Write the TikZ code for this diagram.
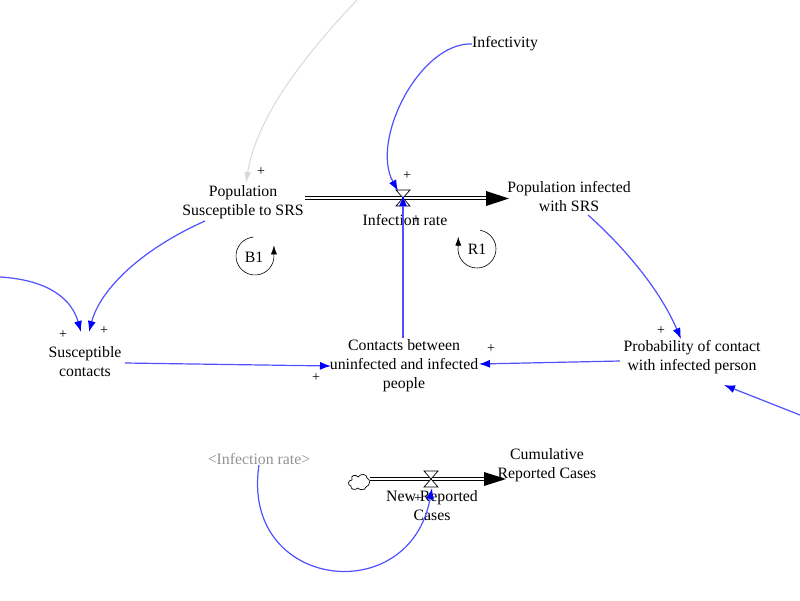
\documentclass[tikz,border=0pt]{standalone}
\usepackage{fontspec}
\setmainfont{Liberation Serif}
\usetikzlibrary{arrows.meta}
\definecolor{linkblue}{RGB}{80,80,255}
\tikzset{
  lbl/.style={font=\fontsize{15.8}{19}\selectfont, align=center, inner sep=0pt},
  grey/.style={lbl, text=gray!85},
  pl/.style={font=\fontsize{14}{14}\selectfont, inner sep=0pt, text=black},
  link/.style={draw=linkblue, line width=1.2pt, -{Latex[length=11pt,width=8pt,color=blue]}},
  glink/.style={draw=gray!30, line width=1pt, -{Latex[length=11pt,width=7pt]}},
  pipe/.style={draw=black, double=white, double distance=2.6pt, line width=0.9pt},
  pipehead/.style={fill=black},
  valveshape/.style={draw=black, fill=white, line width=0.7pt},
  loopc/.style={draw=black, line width=0.6pt, -{Latex[length=9pt,width=6pt]}}
}
\begin{document}
\begin{tikzpicture}[x=1pt,y=-1pt]
\useasboundingbox[fill=white] (0,0) rectangle (800,600);

% ---------- nodes ----------
\node[lbl] (pss) at (243,202) {Population\\Susceptible to SRS};
\node[lbl] (pinf) at (569,197) {Population infected\\with SRS};
\node[lbl] (infrate) at (405,220) {Infection rate};
\node[lbl] (infect) at (505,44) {Infectivity};
\node[lbl] (susc) at (85,362) {Susceptible\\contacts};
\node[lbl] (cont) at (404,366) {Contacts between\\uninfected and infected\\people};
\node[lbl] (prob) at (692,357) {Probability of contact\\with infected person};
\node[grey] (irg) at (259,459) {<Infection rate>};
\node[lbl] (nrc) at (432,506) {New Reported\\Cases};
\node[lbl] (crc) at (547,465) {Cumulative\\Reported Cases};

% ---------- coordinates ----------
\coordinate (v1) at (403,198);
\coordinate (v2) at (431,479);
\coordinate (lefte) at (0,277);
\coordinate (righte) at (800,415);
\coordinate (topg) at (357,0);
\coordinate (cloud) at (360,483);
\coordinate (contn) at (403,338);

% ---------- main pipe ----------
\draw[pipe] (305,198) -- (490,198);
\fill[pipehead] (486,191) -- (509,198.5) -- (486,206) -- cycle;
\draw[valveshape] (396,190) -- (410,190) -- (396,206) -- (410,206) -- cycle;

% ---------- second pipe ----------
\draw[pipe] (370,479) -- (488,479);
\fill[pipehead] (484,472) -- (506,479) -- (484,486) -- cycle;
\draw[valveshape] (424,471) -- (438,471) -- (424,487) -- (438,487) -- cycle;
\draw[line width=0.7pt] (352,480) .. controls (350,475) and (356,474) .. (358,477)
  .. controls (361,473) and (367,474) .. (367,478)
  .. controls (371,479) and (370,486) .. (366,487)
  .. controls (365,491) and (359,490) .. (358,488)
  .. controls (355,491) and (350,489) .. (351,486)
  .. controls (347,485) and (348,480) .. (352,480);

% ---------- links ----------
\draw[glink] (topg) .. controls (300,60) and (256,120) .. (246,183);
\draw[link] (infect.west) .. controls (420,42) and (370,140) .. (398,191);
\draw[link, line width=1.8pt] (contn) -- ([yshift=3pt]v1);
\draw[link] (lefte) .. controls (50,280) and (72,300) .. (81,332);
\draw[link] (205,221) .. controls (140,250) and (100,290) .. (89,332);
\draw[link] (125,363) -- (331,366);
\draw[link] (620,361) -- (479,364);
\draw[link] (588,215) .. controls (625,248) and (660,290) .. (681,339);
\draw[link] (righte) -- (724,385);
\draw[link] (irg.south) .. controls (240,590) and (410,610) .. (432,488);

% ---------- polarity signs ----------
\node[pl] (p1) at (261,172) {+};
\node[pl] (p2) at (407,176) {+};
\node[pl] (p3) at (416,220) {+};
\node[pl] (p4) at (63,335) {+};
\node[pl] (p5) at (104,331) {+};
\node[pl] (p6) at (316,378) {+};
\node[pl] (p7) at (491,349) {+};
\node[pl] (p8) at (661,331) {+};
\node[pl] (p9) at (418,499) {+};

% ---------- loops ----------
\node[lbl] (b1) at (254,257) {B1};
\draw[loopc] (255,256) ++(-95:19) arc[start angle=-95, end angle=-365, radius=19] -- ++(0,-9);
\node[lbl] (r1) at (477,249) {R1};
\draw[loopc] (477,249) ++(-80:19) arc[start angle=-80, end angle=190, radius=19] -- ++(0,-9);
\end{tikzpicture}
\end{document}
